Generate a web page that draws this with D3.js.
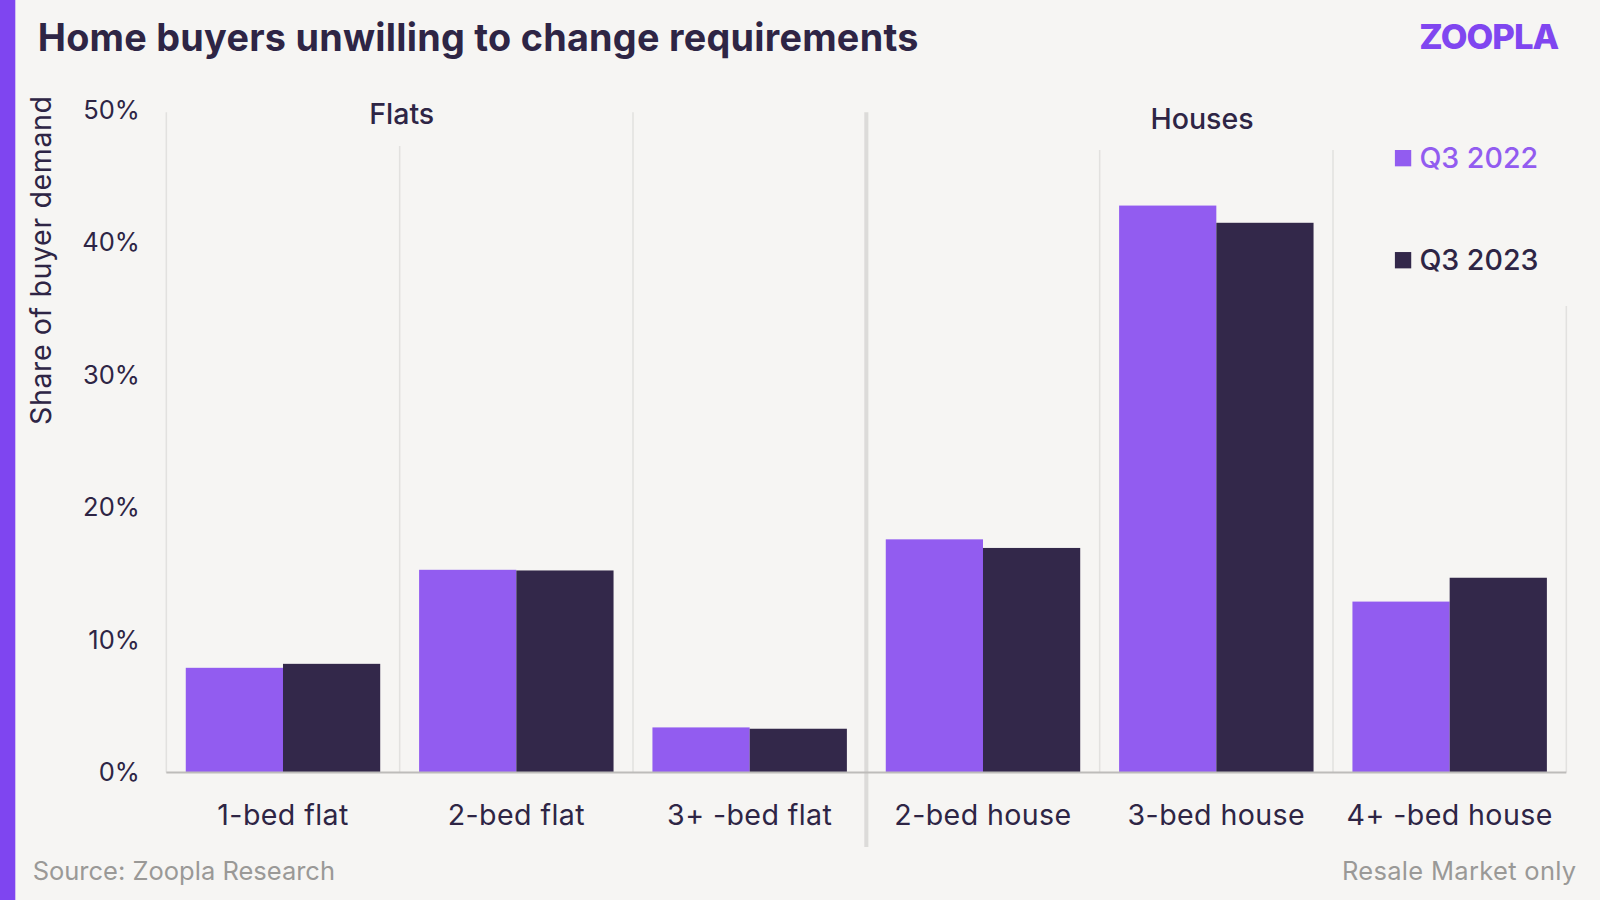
<!DOCTYPE html>
<html>
<head>
<meta charset="utf-8">
<script src="https://cdn.jsdelivr.net/npm/d3@7"></script>
<style>
  html, body { margin: 0; padding: 0; background: #f6f5f3; }
  svg { display: block; font-family: "Inter", "Noto Sans", sans-serif; }
</style>
</head>
<body>
<div id="chart"></div>
<script>
// Data
const categories = ["1-bed flat", "2-bed flat", "3+ -bed flat", "2-bed house", "3-bed house", "4+ -bed house"];
const seriesNames = ["Q3 2022", "Q3 2023"];
const q3_2022 = [7.9, 15.3, 3.4, 17.6, 42.8, 12.9];
const q3_2023 = [8.2, 15.25, 3.3, 16.95, 41.5, 14.7];
const yTicks = [0, 10, 20, 30, 40, 50];
const groupNames = ["Flats", "Houses"];

const colors = ["#925cf0", "#33284a"];
const ink = "#2e2545";

// Dimensions (drawn in reference units, scaled to the window)
const W = 1568, H = 882;
const margin = { top: 108, right: 33, bottom: 125, left: 163 };

const svg = d3.select("#chart")
  .append("svg")
  .attr("width", 1600)
  .attr("height", 900)
  .attr("viewBox", `0 0 ${W} ${H}`);

svg.append("rect").attr("width", W).attr("height", H).attr("fill", "#f6f5f3");

// Left accent strip
svg.append("rect").attr("x", 0).attr("y", 0).attr("width", 15).attr("height", H).attr("fill", "#7f45f0");

// Scales
const x = d3.scaleBand()
  .domain(categories)
  .range([margin.left, W - margin.right])
  .paddingInner(0)
  .paddingOuter(0);

const xInner = d3.scaleBand()
  .domain(seriesNames)
  .range([0, x.bandwidth()])
  .paddingOuter(0.2)
  .paddingInner(0);

const y = d3.scaleLinear()
  .domain([0, 50])
  .range([H - margin.bottom, margin.top]);

// Vertical separators between categories
const sepTops = [110, 143, 110, null, 147, 147, 300];
const sepX = categories.map((c) => x(c)).concat([x(categories[categories.length - 1]) + x.bandwidth()]);
svg.append("g")
  .selectAll("line")
  .data(sepX.map((d, i) => ({ x: d, top: sepTops[i] })).filter((d) => d.top !== null))
  .enter()
  .append("line")
  .attr("x1", (d) => d.x)
  .attr("x2", (d) => d.x)
  .attr("y1", (d) => d.top)
  .attr("y2", y(0))
  .attr("stroke", "#e2e1df")
  .attr("stroke-width", 1.5);

// Flats / Houses divider
const divX = x(categories[3]);
svg.append("line")
  .attr("x1", divX).attr("x2", divX)
  .attr("y1", 110).attr("y2", 830)
  .attr("stroke", "#dcdbd9")
  .attr("stroke-width", 4);

// Bars
const rows = categories.map((c, i) => ({ cat: c, values: [q3_2022[i], q3_2023[i]] }));
const catG = svg.append("g")
  .selectAll("g")
  .data(rows)
  .enter()
  .append("g")
  .attr("transform", (d) => `translate(${x(d.cat)},0)`);

catG.selectAll("rect")
  .data((d) => d.values.map((v, j) => ({ name: seriesNames[j], value: v, j })))
  .enter()
  .append("rect")
  .attr("x", (d) => xInner(d.name))
  .attr("width", xInner.bandwidth())
  .attr("y", (d) => y(d.value))
  .attr("height", (d) => y(0) - y(d.value))
  .attr("fill", (d) => colors[d.j]);

// Baseline
svg.append("line")
  .attr("x1", margin.left).attr("x2", W - margin.right)
  .attr("y1", y(0)).attr("y2", y(0))
  .attr("stroke", "#bdbcba")
  .attr("stroke-width", 2);

// Y axis
const yAxis = svg.append("g")
  .attr("transform", `translate(137,0)`)
  .call(d3.axisLeft(y).tickValues(yTicks).tickFormat((d) => d + "%").tickSize(0).tickPadding(0));
yAxis.select(".domain").remove();
yAxis.selectAll("text")
  .attr("fill", ink)
  .style("font-size", "25px")
  .style("font-family", "Inter, sans-serif");

// X axis labels
const xAxis = svg.append("g")
  .attr("transform", `translate(0,${y(0)})`)
  .call(d3.axisBottom(x).tickSize(0).tickPadding(32));
xAxis.select(".domain").remove();
xAxis.selectAll("text")
  .attr("fill", ink)
  .style("font-size", "28px")
  .style("letter-spacing", "0.4px")
  .style("font-family", "Inter, sans-serif");

// Group labels: Flats over the first separator, Houses over the right half
const groupX = [x(categories[1]) + 2, x(categories[4]) + x.bandwidth() / 2 - 14];
const groupY = [122, 126];
svg.append("g")
  .selectAll("text")
  .data(groupNames)
  .enter()
  .append("text")
  .attr("x", (d, i) => groupX[i])
  .attr("y", (d, i) => groupY[i])
  .attr("text-anchor", "middle")
  .attr("fill", ink)
  .style("font-size", "28px")
  .style("font-weight", 500)
  .text((d) => d);

// Y axis title
svg.append("text")
  .attr("transform", "translate(50,255) rotate(-90)")
  .attr("text-anchor", "middle")
  .attr("fill", ink)
  .style("font-size", "28px")
  .style("letter-spacing", "0.6px")
  .text("Share of buyer demand");

// Legend
const legend = svg.append("g")
  .selectAll("g")
  .data(seriesNames)
  .enter()
  .append("g")
  .attr("transform", (d, i) => `translate(1367,${155 + i * 100})`);
legend.append("rect")
  .attr("x", 0).attr("y", -8)
  .attr("width", 16).attr("height", 16)
  .attr("fill", (d, i) => colors[i]);
legend.append("text")
  .attr("x", 24).attr("y", 10)
  .attr("fill", (d, i) => (i === 0 ? colors[0] : ink))
  .style("font-size", "28px")
  .style("font-weight", 500)
  .text((d) => d);

// Title
svg.append("text")
  .attr("x", 37).attr("y", 50)
  .attr("fill", ink)
  .attr("textLength", 863)
  .attr("lengthAdjust", "spacing")
  .style("font-size", "37px")
  .style("font-weight", 700)
  .text("Home buyers unwilling to change requirements");

// Logo
svg.append("text")
  .attr("x", 1527).attr("y", 48)
  .attr("text-anchor", "end")
  .attr("fill", "#8046f0")
  .style("font-size", "34px")
  .style("font-weight", 800)
  .style("letter-spacing", "-1px")
  .text("ZOOPLA");

// Footer
svg.append("text")
  .attr("x", 32).attr("y", 862)
  .attr("fill", "#9a9997")
  .style("font-size", "25px")
  .text("Source: Zoopla Research");
svg.append("text")
  .attr("x", 1545).attr("y", 862)
  .attr("text-anchor", "end")
  .attr("fill", "#9a9997")
  .style("font-size", "25px")
  .style("letter-spacing", "0.3px")
  .text("Resale Market only");
</script>
</body>
</html>
